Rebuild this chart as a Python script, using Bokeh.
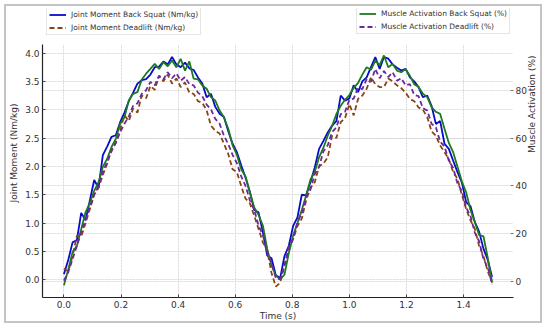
import math
import numpy as np
from bokeh.plotting import figure
from bokeh.models import (Range1d, LinearAxis, FixedTicker, Legend, LegendItem, Grid,
                          PrintfTickFormatter, BoxAnnotation)
from bokeh.embed import file_html
from bokeh.resources import INLINE

# ---------------- data ----------------
time_s = np.linspace(0, 1.5, 100)

moment_squat = [
    0.10, 0.35, 0.66, 0.70, 1.18, 1.05, 1.40, 1.76, 1.62, 2.20,
    2.35, 2.52, 2.55, 2.78, 2.95, 3.15, 3.30, 3.46, 3.52, 3.54,
    3.62, 3.75, 3.76, 3.85, 3.80, 3.93, 3.80, 3.75, 3.83, 3.73,
    3.70, 3.57, 3.46, 3.22, 3.28, 3.05, 2.93, 2.87, 2.62, 2.40,
    2.25, 2.02, 1.80, 1.55, 1.23, 1.19, 0.84, 0.43, 0.38, 0.08,
    0.03, 0.42, 0.60, 0.95, 1.10, 1.50, 1.49, 1.72, 1.98, 2.31,
    2.45, 2.60, 2.72, 2.80, 3.25, 3.16, 3.20, 3.43, 3.31, 3.50,
    3.57, 3.75, 3.93, 3.72, 3.93, 3.90, 3.80, 3.74, 3.69, 3.72,
    3.57, 3.50, 3.40, 3.22, 3.25, 3.07, 2.75, 2.80, 2.40, 2.31,
    2.10, 1.90, 1.72, 1.37, 1.30, 1.02, 0.85, 0.55, 0.35, 0.05,
]

moment_deadlift = [
    0.20, 0.15, 0.42, 0.78, 0.76, 1.00, 1.25, 1.50, 1.62, 1.85,
    2.05, 2.30, 2.42, 2.65, 2.90, 2.80, 3.02, 2.95, 3.25, 3.20,
    3.42, 3.35, 3.60, 3.50, 3.62, 3.46, 3.55, 3.40, 3.48, 3.30,
    3.28, 3.15, 3.12, 2.99, 2.72, 2.63, 2.58, 2.40, 2.22, 1.95,
    1.90, 1.65, 1.43, 1.35, 1.13, 0.90, 0.66, 0.52, 0.12, -0.12,
    -0.05, 0.25, 0.52, 0.72, 0.95, 1.08, 1.40, 1.62, 1.72, 2.00,
    2.05, 2.16, 2.54, 2.50, 2.78, 2.85, 3.10, 2.90, 3.19, 3.25,
    3.37, 3.57, 3.45, 3.40, 3.40, 3.55, 3.50, 3.43, 3.38, 3.30,
    3.19, 3.15, 3.04, 3.00, 2.87, 2.62, 2.54, 2.37, 2.25, 2.13,
    1.90, 1.78, 1.50, 1.25, 1.05, 0.90, 0.60, 0.42, 0.15, -0.05,
]

activation_squat = [
    -1.5, 5.0, 12.4, 15.0, 22.0, 29.0, 33.0, 38.0, 41.6, 48.0,
    51.4, 56.3, 59.7, 66.0, 68.7, 75.7, 78.5, 79.2, 84.5, 86.9,
    88.9, 91.0, 88.9, 91.7, 90.0, 92.4, 89.6, 93.1, 88.2, 92.0,
    84.8, 84.5, 82.0, 80.6, 77.1, 75.7, 71.5, 68.7, 63.9, 57.0,
    53.0, 47.0, 44.0, 37.4, 31.0, 28.0, 23.5, 13.8, 6.8, 2.6,
    1.0, 3.0, 12.0, 19.3, 24.5, 30.0, 36.0, 42.6, 46.0, 52.0,
    56.0, 61.0, 65.0, 70.0, 73.5, 76.0, 78.0, 81.0, 83.0, 86.5,
    89.6, 88.5, 92.4, 90.5, 94.5, 89.6, 91.0, 88.2, 87.5, 88.9,
    86.0, 82.5, 81.3, 78.5, 77.1, 72.9, 71.0, 70.1, 63.9, 58.0,
    54.1, 48.0, 42.0, 37.4, 30.0, 25.0, 19.6, 19.0, 10.0, -0.2,
]

activation_deadlift = [
    0.5, 4.0, 9.5, 15.0, 20.5, 26.0, 31.0, 36.5, 40.0, 46.0,
    50.0, 54.5, 58.0, 62.5, 66.0, 69.0, 73.5, 74.5, 78.5, 80.0,
    83.5, 82.0, 86.0, 84.5, 87.5, 85.0, 87.0, 84.0, 85.5, 82.5,
    82.0, 79.0, 77.5, 74.0, 72.0, 68.0, 66.0, 61.0, 57.5, 53.0,
    49.5, 44.0, 40.0, 34.0, 30.0, 23.5, 19.5, 12.5, 8.0, 1.5,
    1.0, 7.0, 14.5, 18.0, 25.0, 28.5, 35.5, 38.5, 45.0, 48.0,
    54.5, 57.0, 62.5, 64.5, 70.0, 71.0, 76.0, 76.5, 81.0, 80.5,
    84.5, 83.5, 88.9, 85.0, 88.0, 85.5, 87.5, 84.0, 85.0, 82.0,
    82.5, 78.0, 77.5, 72.5, 71.5, 66.0, 64.5, 58.5, 56.5, 50.5,
    47.5, 41.0, 38.0, 31.0, 27.5, 20.5, 17.0, 9.5, 6.0, -1.0,
]

x_ticks = [0.0, 0.2, 0.4, 0.6, 0.8, 1.0, 1.2, 1.4]
left_ticks = [0.0, 0.5, 1.0, 1.5, 2.0, 2.5, 3.0, 3.5, 4.0]
right_ticks = [0, 20, 40, 60, 80]

labels = [
    "Joint Moment Back Squat (Nm/kg)",
    "Joint Moment Deadlift (Nm/kg)",
    "Muscle Activation Back Squat (%)",
    "Muscle Activation Deadlift (%)",
]

# ---------------- style ----------------
FONT = "DejaVu Sans"
TXT = "#333333"
GRID = "#cfcfcf"

# axes box limits (data units) and the extra headroom that holds the legends
LEFT_LO, LEFT_HI, LEFT_TOP = -0.312, 4.145, 4.785
ACT_LO, ACT_TOP = -6.56, 114.12

p = figure(
    width=538, height=319,
    output_backend="svg", toolbar_location=None,
    x_range=Range1d(-0.075, 1.575), y_range=Range1d(LEFT_LO, LEFT_TOP),
    min_border_left=33, min_border_right=31, min_border_top=2, min_border_bottom=28,
    styles={"margin-left": "4px", "margin-top": "4px", "border": "2px solid #c4c4c4"},
)
p.outline_line_color = None
p.background_fill_color = "white"
p.border_fill_color = "white"
p.extra_y_ranges = {"act": Range1d(ACT_LO, ACT_TOP)}

# bottom axis
xa = p.xaxis[0]
xa.ticker = FixedTicker(ticks=x_ticks)
xa.formatter = PrintfTickFormatter(format="%.1f")
xa.axis_label = "Time (s)"
# left axis
ya = p.yaxis[0]
ya.ticker = FixedTicker(ticks=left_ticks)
ya.formatter = PrintfTickFormatter(format="%.1f")
ya.axis_label = "Joint Moment (Nm/kg)"
ya.bounds = (LEFT_LO, LEFT_HI)
# right axis
ra = LinearAxis(y_range_name="act", axis_label="Muscle Activation (%)",
                ticker=FixedTicker(ticks=right_ticks))
ra.formatter = PrintfTickFormatter(format="%d")
try:
    ra.axis_label_orientation = math.pi / 2
except Exception:
    pass
p.add_layout(ra, "right")

for ax in (xa, ya, ra):
    ax.major_label_text_font = FONT
    ax.major_label_text_font_size = "9px"
    ax.major_label_text_color = TXT
    ax.axis_label_text_font = FONT
    ax.axis_label_text_font_size = "9px"
    ax.axis_label_text_color = TXT
    ax.axis_label_text_font_style = "normal"
    ax.minor_tick_line_color = None
    ax.major_tick_in = 3
    ax.major_tick_out = 0
    ax.major_tick_line_color = "#444444"
    ax.axis_line_color = "#222222"
    ax.axis_line_width = 1.2

xa.major_label_standoff = 3
xa.axis_label_standoff = 0
ya.major_label_standoff = 3
ya.axis_label_standoff = 3
ra.major_label_standoff = 2
ra.axis_label_standoff = 2
ra.axis_line_color = None
ra.major_tick_line_color = "#777777"

# grids
for g in p.grid:
    g.grid_line_color = GRID
    g.grid_line_dash = "2 1"
    g.grid_line_width = 0.8
p.add_layout(Grid(dimension=1, ticker=ra.ticker, y_range_name="act",
                  grid_line_color=GRID, grid_line_dash="2 1", grid_line_width=0.8))

# white mask over the headroom above the axes box (where the legends sit)
p.add_layout(BoxAnnotation(bottom=LEFT_HI, fill_color="white", fill_alpha=1.0,
                           line_alpha=0, level="glyph"))

# lines
r1 = p.line(time_s, moment_squat, line_color="#0a0acc", line_width=1.8)
r2 = p.line(time_s, moment_deadlift, line_color="#8b4513", line_width=1.8, line_dash="5 3")
r3 = p.line(time_s, activation_squat, line_color="#1e7a1e", line_width=1.8, y_range_name="act")
r4 = p.line(time_s, activation_deadlift, line_color="#6a2a9a", line_width=1.8,
            line_dash="5 3", y_range_name="act")


def make_legend(items, loc):
    lg = Legend(items=items, location=loc)
    lg.label_text_font = FONT
    lg.label_text_font_size = "7.5px"
    lg.label_text_color = TXT
    lg.border_line_color = "#cccccc"
    lg.border_line_width = 1
    lg.background_fill_color = "white"
    lg.background_fill_alpha = 1
    lg.padding = 2
    lg.spacing = 4
    lg.margin = 0
    lg.glyph_width = 17
    lg.glyph_height = 9
    lg.label_height = 9
    lg.label_standoff = 5
    return lg


# location = (offset from frame left, offset of legend bottom above frame bottom)
leg1 = make_legend([LegendItem(label=labels[0], renderers=[r1]),
                    LegendItem(label=labels[1], renderers=[r2])], (4, 262))
leg2 = make_legend([LegendItem(label=labels[2], renderers=[r3]),
                    LegendItem(label=labels[3], renderers=[r4])], (314, 263))
p.add_layout(leg1)
p.add_layout(leg2)

open("out.html", "w").write(file_html(p, INLINE))
